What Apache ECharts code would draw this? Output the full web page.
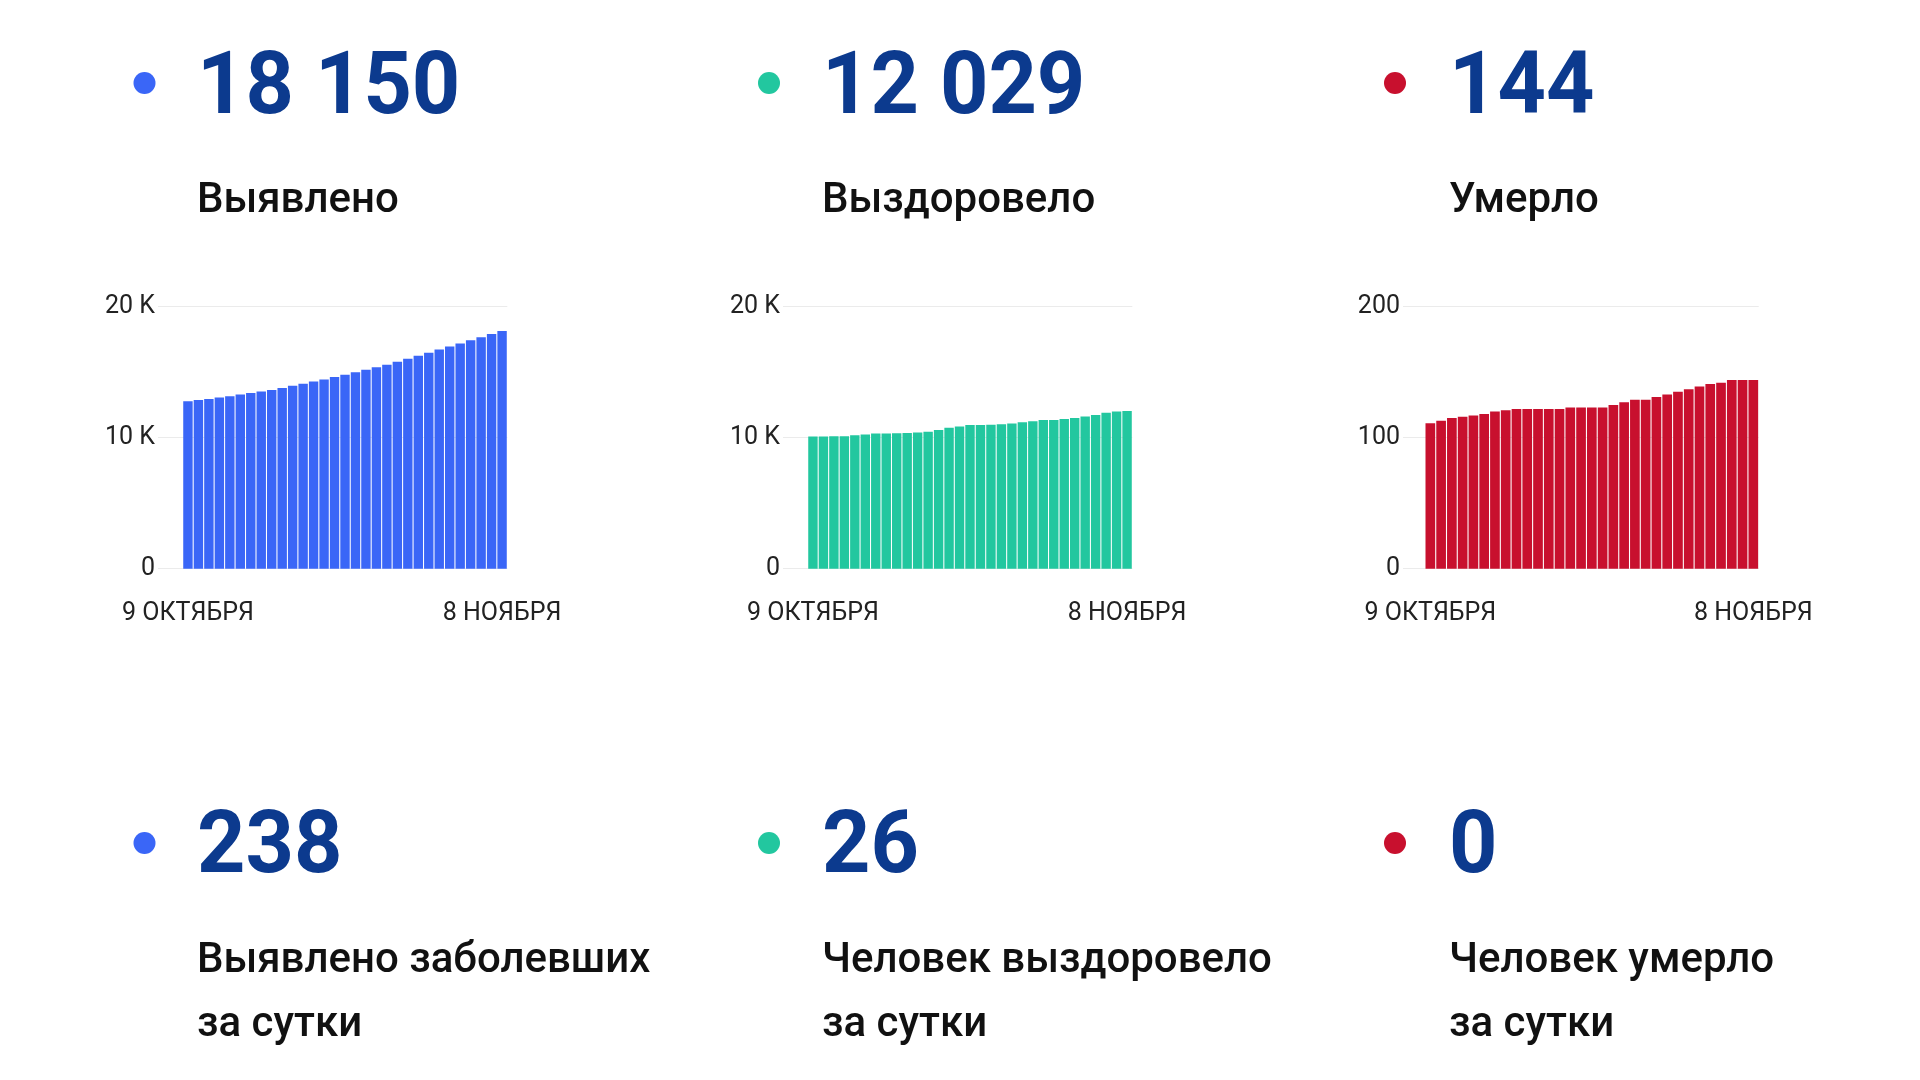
<!DOCTYPE html>
<html>
<head>
<meta charset="utf-8">
<title>Коронавирус: сводка</title>
<script src="https://cdn.jsdelivr.net/npm/echarts@6/dist/echarts.min.js"></script>
<style>
html, body { margin: 0; padding: 0; background: #fff; }
#main { width: 1920px; height: 1080px; }
</style>
</head>
<body>
<div id="main"></div>
<script>
// дни: 9 октября — 8 ноября
const days = [
  '9 ОКТЯБРЯ', '10 ОКТЯБРЯ', '11 ОКТЯБРЯ', '12 ОКТЯБРЯ', '13 ОКТЯБРЯ', '14 ОКТЯБРЯ',
  '15 ОКТЯБРЯ', '16 ОКТЯБРЯ', '17 ОКТЯБРЯ', '18 ОКТЯБРЯ', '19 ОКТЯБРЯ', '20 ОКТЯБРЯ',
  '21 ОКТЯБРЯ', '22 ОКТЯБРЯ', '23 ОКТЯБРЯ', '24 ОКТЯБРЯ', '25 ОКТЯБРЯ', '26 ОКТЯБРЯ',
  '27 ОКТЯБРЯ', '28 ОКТЯБРЯ', '29 ОКТЯБРЯ', '30 ОКТЯБРЯ', '31 ОКТЯБРЯ',
  '1 НОЯБРЯ', '2 НОЯБРЯ', '3 НОЯБРЯ', '4 НОЯБРЯ', '5 НОЯБРЯ', '6 НОЯБРЯ', '7 НОЯБРЯ', '8 НОЯБРЯ'
]

// выявлено (накопительно)
const detected = [
  12780, 12880, 12960, 13060, 13160, 13290, 13420, 13520, 13650, 13800, 13960,
  14110, 14290, 14450, 14630, 14810, 14990, 15190, 15370, 15560, 15790, 16020,
  16250, 16480, 16740, 16970, 17200, 17440, 17670, 17912, 18150
]
// выздоровело (накопительно)
const recovered = [
  10090, 10100, 10110, 10120, 10190, 10240, 10320, 10330, 10340, 10350, 10400,
  10450, 10580, 10760, 10860, 10960, 10970, 10980, 11020, 11090, 11170, 11250,
  11350, 11360, 11430, 11500, 11610, 11730, 11900, 12003, 12029
]
// умерло (накопительно)
const deaths = [
  111, 113, 115, 116, 117, 118, 120, 121, 122, 122, 122,
  122, 122, 123, 123, 123, 123, 125, 127, 129, 129, 131,
  133, 135, 137, 139, 141, 142, 144, 144, 144
]

// подписи карточек
const totals = ['18 150', '12 029', '144']
const totalNames = ['Выявлено', 'Выздоровело', 'Умерло']
const daily = ['238', '26', '0']
const dailyNames = ['Выявлено заболевших\nза сутки', 'Человек выздоровело\nза сутки', 'Человек умерло\nза сутки']
const yMax = [20000, 20000, 200]

const colors = ['#3a66f7', '#22c79f', '#c8102e']
const numColor = '#0c3a8e'
const font = 'Roboto, "Noto Sans", sans-serif'

// расположение колонок
const colText = [197, 822, 1449]
const colDot = [144.5, 769, 1395]
const grids = [
  { left: 158, top: 306.7, width: 349.3, height: 262 },
  { left: 783, top: 306.7, width: 349.3, height: 262 },
  { left: 1403, top: 306.7, width: 355.7, height: 262 }
]
const xMin = [-2.86, -2.86, -2.54]

const seriesData = [detected, recovered, deaths]

let myChart = echarts.init(document.getElementById('main'))

let graphic = []
for (let c = 0; c < 3; c++) {
  graphic.push(
    { type: 'circle', shape: { cx: colDot[c], cy: 83, r: 11 }, style: { fill: colors[c] } },
    { type: 'circle', shape: { cx: colDot[c], cy: 843, r: 11 }, style: { fill: colors[c] } },
    {
      type: 'text', x: colText[c], y: 90.5, scaleX: 0.96,
      style: { text: totals[c], font: 'bold 88px ' + font, fill: numColor, verticalAlign: 'middle' }
    },
    {
      type: 'text', x: colText[c], y: 201.8,
      style: { text: totalNames[c], font: '500 42px ' + font, fill: '#111', verticalAlign: 'middle' }
    },
    {
      type: 'text', x: colText[c], y: 849.5, scaleX: 0.96,
      style: { text: daily[c], font: 'bold 88px ' + font, fill: numColor, verticalAlign: 'middle' }
    },
    {
      type: 'text', x: colText[c], y: 929.3,
      style: { text: dailyNames[c], font: '500 42px ' + font, fill: '#111', verticalAlign: 'top', lineHeight: 64 }
    }
  )
}

let option = {
  animation: false,
  backgroundColor: '#fff',
  textStyle: { fontFamily: font },
  grid: grids,
  xAxis: grids.map((g, i) => ({
    type: 'value',
    gridIndex: i,
    min: xMin[i],
    max: 30.5,
    axisLine: { show: false },
    axisTick: { show: false },
    splitLine: { show: false },
    axisLabel: {
      customValues: [0, days.length - 1],
      formatter: v => days[Math.round(v)],
      margin: 33,
      fontSize: 25,
      color: '#222'
    }
  })),
  yAxis: grids.map((g, i) => ({
    type: 'value',
    gridIndex: i,
    min: 0,
    max: yMax[i],
    interval: yMax[i] / 2,
    axisLine: { show: false },
    axisTick: { show: false },
    splitLine: { lineStyle: { color: '#ebebeb', width: 1 } },
    axisLabel: {
      margin: 3,
      fontSize: 25,
      color: '#222',
      padding: [6, 0, 0, 0],
      formatter: v => (yMax[i] > 1000 && v > 0) ? (v / 1000) + ' K' : String(v)
    }
  })),
  series: seriesData.map((d, i) => ({
    type: 'bar',
    xAxisIndex: i,
    yAxisIndex: i,
    barWidth: '90%',
    silent: true,
    itemStyle: { color: colors[i] },
    data: d.map((v, k) => [k, v])
  })),
  graphic: graphic
}

myChart.setOption(option)
</script>
</body>
</html>
